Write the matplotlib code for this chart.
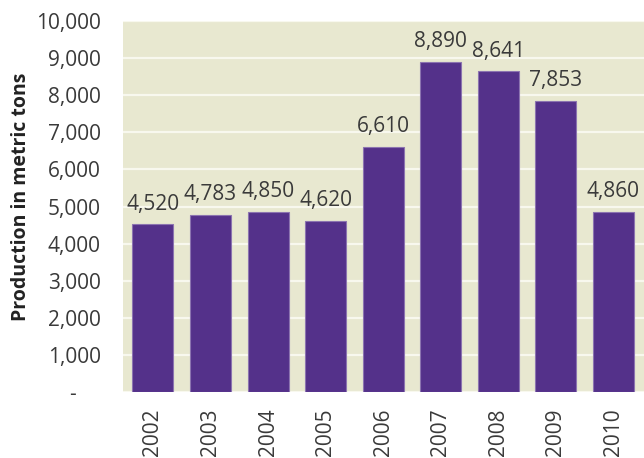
import matplotlib
matplotlib.use("Agg")
import matplotlib.pyplot as plt
from matplotlib.ticker import FixedLocator, FuncFormatter

years = ["2002", "2003", "2004", "2005", "2006", "2007", "2008", "2009", "2010"]
production = [4520, 4783, 4850, 4620, 6610, 8890, 8641, 7853, 4860]
y_ticks = [0, 1000, 2000, 3000, 4000, 5000, 6000, 7000, 8000, 9000, 10000]

plt.rcParams["font.family"] = ["Open Sans", "DejaVu Sans"]

BAR = "#54318A"
EDGE = "#8C74B0"
PANEL = "#E8E8D0"
TEXT = "#3A3A3A"

fig = plt.figure(figsize=(6.44, 4.58), dpi=100)
ax = fig.add_axes([123 / 644, 66 / 458, 521 / 644, 371 / 458])
ax.set_facecolor(PANEL)

x = list(range(len(years)))
ax.bar(x, production, width=0.71, color=BAR, edgecolor=EDGE, linewidth=0.8, zorder=3)

for xi, v in zip(x, production):
    ax.annotate(f"{v:,}", (xi, v), xytext=(0, 7), textcoords="offset points",
                ha="center", va="bottom", fontsize=15, color=TEXT, zorder=4)

ax.set_xlim(-0.52, 8.53)
ax.set_ylim(0, 10000)
ax.yaxis.set_major_locator(FixedLocator(y_ticks))
# accounting-style zero: a dash padded away from the right edge
ax.yaxis.set_major_formatter(
    FuncFormatter(lambda v, p: "-\u2007\u2007" if v == 0 else f"{int(v):,}"))
ax.grid(axis="y", color="#F8F8EE", linewidth=1.6, zorder=1)
ax.set_axisbelow(True)

ax.set_xticks(x)
ax.set_xticklabels(years, rotation=90, fontsize=15, color=TEXT)
ax.tick_params(axis="x", length=0, pad=12)
ax.tick_params(axis="y", length=0, pad=16, labelsize=15, labelcolor=TEXT)

for s in ax.spines.values():
    s.set_visible(False)

fig.text(21 / 644, 1 - 197 / 458, "Production in metric tons", rotation=90,
         ha="center", va="center", fontsize=14, fontweight="bold", color="#222222")

fig.savefig("out.png", dpi=100)
